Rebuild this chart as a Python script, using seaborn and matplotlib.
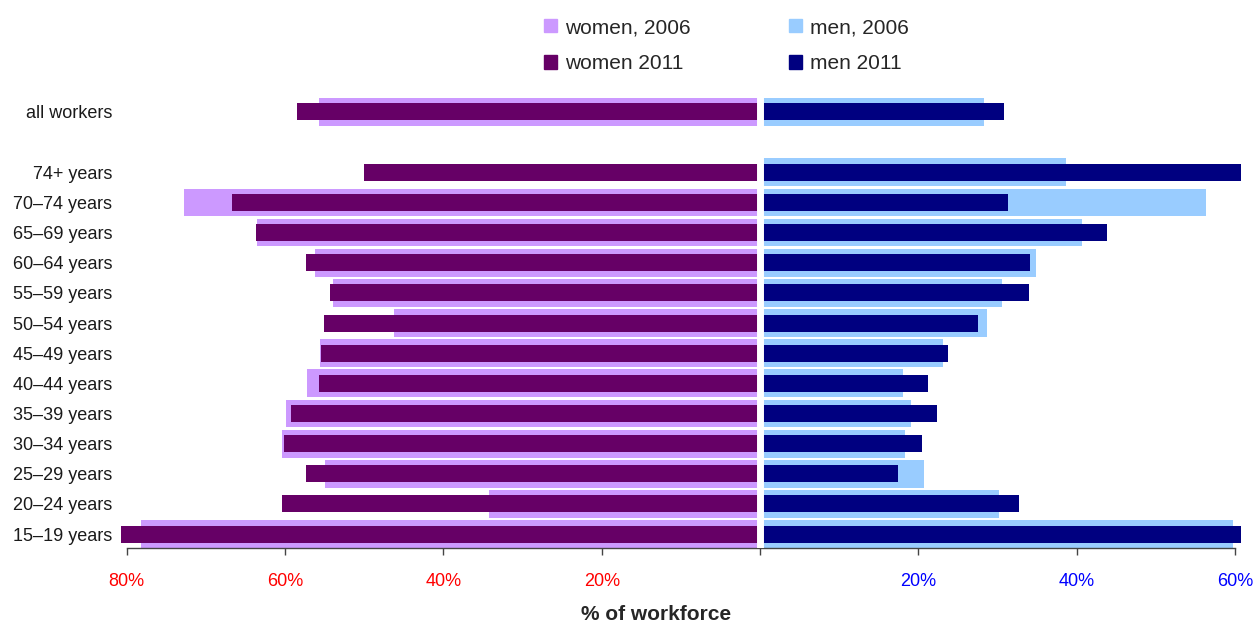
import numpy as np
import pandas as pd
import seaborn as sns
import matplotlib.pyplot as plt
from matplotlib.patches import Patch

# categories top to bottom, " " is the empty slot under "all workers"
groups = ["all workers", " ", "74+ years", "70\u201374 years", "65\u201369 years",
          "60\u201364 years", "55\u201359 years", "50\u201354 years", "45\u201349 years",
          "40\u201344 years", "35\u201339 years", "30\u201334 years", "25\u201329 years",
          "20\u201324 years", "15\u201319 years"]
cats = [g for g in groups if g.strip()]

# % of workforce
women_2006 = [55.7, np.nan, 72.7, 63.6, 56.2, 53.9, 46.3, 55.6, 57.2, 59.9, 60.4, 54.9, 34.2, 78.2]
women_2011 = [58.5, 50.0, 66.7, 63.7, 57.4, 54.3, 55.1, 55.4, 55.7, 59.3, 60.1, 57.4, 60.4, 80.7]
men_2006 = [28.3, 38.6, 56.3, 40.7, 34.9, 30.6, 28.7, 23.1, 18.1, 19.1, 18.3, 20.7, 30.2, 59.7]
men_2011 = [30.8, 61.0, 31.3, 43.8, 34.1, 34.0, 27.5, 23.7, 21.2, 22.4, 20.5, 17.4, 32.7, 61.0]

tick_vals = [-80, -60, -40, -20, 0, 20, 40, 60]
tick_text = ["80%", "60%", "40%", "20%", "", "20%", "40%", "60%"]

c_w06, c_w11 = "#CC99FF", "#660066"
c_m06, c_m11 = "#99CCFF", "#000080"

sns.set_style("white")
plt.rcParams['font.family'] = ['Liberation Sans', 'DejaVu Sans']

fig = plt.figure(figsize=(12.55, 6.23), dpi=100)
ax = fig.add_axes([0.0959, 0.1204, 0.8933, 0.7289])

df = pd.DataFrame({"group": cats,
                   "w06": -np.array(women_2006), "w11": -np.array(women_2011),
                   "m06": men_2006, "m11": men_2011})

for col, colr, w in [("w06", c_w06, 0.92), ("m06", c_m06, 0.92),
                     ("w11", c_w11, 0.565), ("m11", c_m11, 0.565)]:
    sns.barplot(data=df, x=col, y="group", order=groups, orient="h",
                color=colr, width=w, errorbar=None, saturation=1,
                linewidth=0, ax=ax)

# white gap between the two halves
ax.axvline(0, color="white", lw=5, zorder=10)

ax.set_xlim(-80.8, 60.8)
ax.set_ylim(14.46, -0.6)
ax.set_xticks(tick_vals)
ax.set_xticklabels(tick_text)
for lab, v in zip(ax.get_xticklabels(), tick_vals):
    lab.set_color("red" if v < 0 else "blue")
ax.tick_params(axis="x", direction="out", length=5, width=1, color="#444444",
               pad=13, labelsize=13, bottom=True)
ax.tick_params(axis="y", length=0, pad=6, labelsize=13, labelcolor="#1a1a1a")
ax.set_xlabel("")
ax.set_ylabel("")
for s in ["top", "right", "left"]:
    ax.spines[s].set_visible(False)
ax.spines["bottom"].set_bounds(-80, 60)
ax.spines["bottom"].set_color("#444444")
ax.spines["bottom"].set_linewidth(1)

fig.text(656 / 1255, 1 - 614 / 623, "% of workforce", ha="center", va="center",
         fontsize=15, fontweight="bold")

handles = [Patch(color=c_w06, label="women, 2006"), Patch(color=c_w11, label="women 2011"),
           Patch(color=c_m06, label="men, 2006"), Patch(color=c_m11, label="men 2011")]
fig.legend(handles=handles, ncol=2, loc="upper left",
           bbox_to_anchor=(544 / 1255, 1 - 18 / 623), frameon=False,
           fontsize=15, handlelength=0.62, handleheight=0.62, handletextpad=0.38,
           columnspacing=4.75, labelspacing=0.83, borderpad=0, borderaxespad=0)

fig.savefig("out.png", dpi=100)
